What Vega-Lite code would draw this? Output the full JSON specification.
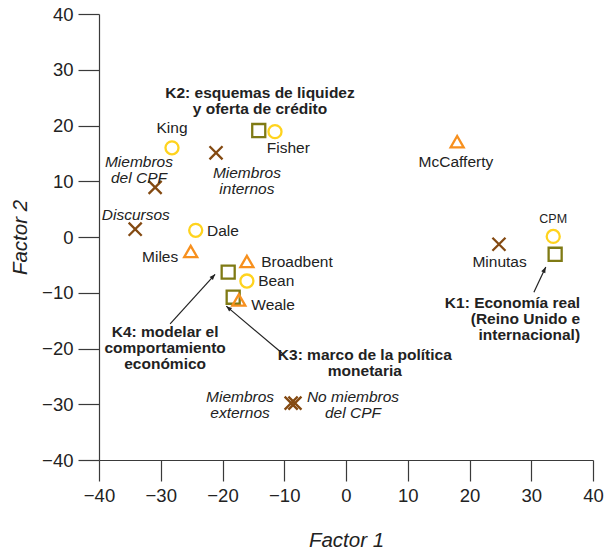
{
  "$schema": "https://vega.github.io/schema/vega-lite/v6.json",
  "width": 494,
  "height": 446,
  "autosize": {"type": "none"},
  "padding": {"left": 99, "top": 14, "right": 11, "bottom": 90},
  "background": "white",
  "config": {
    "view": {"stroke": null},
    "font": "Liberation Sans",
    "axis": {
      "grid": false,
      "domainColor": "#3a3a3a",
      "tickColor": "#3a3a3a",
      "domainWidth": 1.2,
      "tickWidth": 1.2,
      "tickSize": 21,
      "labelFont": "Liberation Sans",
      "labelFontSize": 18.5,
      "labelColor": "#222",
      "labelPadding": 5,
      "titleFont": "Liberation Sans",
      "titleFontSize": 20.5,
      "titleFontStyle": "italic",
      "titleFontWeight": "normal",
      "titleColor": "#222"
    }
  },
  "datasets": {
    "puntos": [
      {"f1": -14.13, "f2": 19.1, "tipo": "cuadrado"},
      {"f1": -19.08, "f2": -6.3, "tipo": "cuadrado"},
      {"f1": -18.27, "f2": -10.8, "tipo": "cuadrado"},
      {"f1": 33.87, "f2": -3.1, "tipo": "cuadrado"},
      {"f1": -28.18, "f2": 16.0, "tipo": "circulo"},
      {"f1": -11.5, "f2": 18.9, "tipo": "circulo"},
      {"f1": -24.34, "f2": 1.2, "tipo": "circulo"},
      {"f1": -16.05, "f2": -7.9, "tipo": "circulo"},
      {"f1": 33.56, "f2": 0.1, "tipo": "circulo"},
      {"f1": -25.15, "f2": -2.6, "tipo": "triangulo"},
      {"f1": -16.05, "f2": -4.4, "tipo": "triangulo"},
      {"f1": -17.36, "f2": -11.3, "tipo": "triangulo"},
      {"f1": 18.0, "f2": 17.1, "tipo": "triangulo"},
      {"f1": -21.05, "f2": 15.1, "tipo": "cruz"},
      {"f1": -30.91, "f2": 8.9, "tipo": "cruz"},
      {"f1": -34.14, "f2": 1.4, "tipo": "cruz"},
      {"f1": 24.77, "f2": -1.3, "tipo": "cruz"},
      {"f1": -8.88, "f2": -29.8, "tipo": "cruz"},
      {"f1": -8.27, "f2": -29.8, "tipo": "cruz"}
    ],
    "flechas": [
      {"id": "K4", "f1": -28.48, "f2": -15.6, "f1b": -21.2, "f2b": -6.7},
      {"id": "K3", "f1": -10.19, "f2": -21.0, "f1b": -19.39, "f2b": -12.4},
      {"id": "K1", "f1": 30.43, "f2": -9.9, "f1b": 32.35, "f2b": -5.4}
    ],
    "etiquetas": [
      {"f1": -28.18, "f2": 19.6, "texto": "King", "clase": "nombre", "lado": "centro"},
      {"f1": 17.8, "f2": 13.5, "texto": "McCafferty", "clase": "nombre", "lado": "centro"},
      {"f1": 24.87, "f2": -4.4, "texto": "Minutas", "clase": "nombre", "lado": "centro"},
      {"f1": -12.82, "f2": 16.0, "texto": "Fisher", "clase": "nombre", "lado": "izquierda"},
      {"f1": -22.52, "f2": 1.0, "texto": "Dale", "clase": "nombre", "lado": "izquierda"},
      {"f1": -13.73, "f2": -4.4, "texto": "Broadbent", "clase": "nombre", "lado": "izquierda"},
      {"f1": -14.23, "f2": -7.9, "texto": "Bean", "clase": "nombre", "lado": "izquierda"},
      {"f1": -15.34, "f2": -12.2, "texto": "Weale", "clase": "nombre", "lado": "izquierda"},
      {"f1": -27.17, "f2": -3.65, "texto": "Miles", "clase": "nombre", "lado": "derecha"},
      {"f1": 33.56, "f2": 3.3, "texto": "CPM", "clase": "sigla", "lado": "centro"},
      {"f1": -34.04, "f2": 3.9, "texto": "Discursos", "clase": "fuente", "lado": "centro"},
      {"f1": -33.53, "f2": 13.45, "texto": "Miembros\ndel CPF", "clase": "fuente", "lado": "centro"},
      {"f1": -16.05, "f2": 11.48, "texto": "Miembros\ninternos", "clase": "fuente", "lado": "centro"},
      {"f1": -17.16, "f2": -28.7, "texto": "Miembros\nexternos", "clase": "fuente", "lado": "centro"},
      {"f1": 1.13, "f2": -28.7, "texto": "No miembros\ndel CPF", "clase": "fuente", "lado": "centro"},
      {"f1": -13.93, "f2": 25.83, "texto": "K2: esquemas de liquidez\ny oferta de crédito", "clase": "grupo", "lado": "centro"},
      {"f1": -29.29, "f2": -17.04, "texto": "K4: modelar el\ncomportamiento\neconómico", "clase": "grupo", "lado": "centro"},
      {"f1": 3.05, "f2": -21.17, "texto": "K3: marco de la política\nmonetaria", "clase": "grupo", "lado": "centro"},
      {"f1": 37.91, "f2": -11.84, "texto": "K1: Economía real\n(Reino Unido e\ninternacional)", "clase": "grupo", "lado": "derecha"}
    ]
  },
  "encoding": {
    "x": {"field": "f1", "type": "quantitative", "scale": {"domain": [-40, 40], "nice": false}, "axis": {"title": "Factor 1", "values": [-40, -30, -20, -10, 0, 10, 20, 30, 40], "titlePadding": 26, "labelFlush": false, "labelOverlap": false}},
    "y": {"field": "f2", "type": "quantitative", "scale": {"domain": [-40, 40], "nice": false}, "axis": {"title": "Factor 2", "values": [-40, -30, -20, -10, 0, 10, 20, 30, 40], "titlePadding": 11, "labelFlush": false, "labelOverlap": false}}
  },
  "layer": [
    {
      "data": {"name": "flechas"},
      "mark": {"type": "rule", "color": "#222", "strokeWidth": 1.2},
      "encoding": {
        "x2": {"field": "f1b"},
        "y2": {"field": "f2b"}
      }
    },
    {
      "data": {"name": "flechas"},
      "transform": [{"filter": "datum.id === 'K4'"}],
      "mark": {"type": "point", "shape": "M0,0L-0.75,1.9L0.75,1.9Z", "filled": true, "color": "#222", "opacity": 1, "size": 36, "angle": 42},
      "encoding": {"x": {"field": "f1b", "type": "quantitative"}, "y": {"field": "f2b", "type": "quantitative"}}
    },
    {
      "data": {"name": "flechas"},
      "transform": [{"filter": "datum.id === 'K3'"}],
      "mark": {"type": "point", "shape": "M0,0L-0.75,1.9L0.75,1.9Z", "filled": true, "color": "#222", "opacity": 1, "size": 36, "angle": -50},
      "encoding": {"x": {"field": "f1b", "type": "quantitative"}, "y": {"field": "f2b", "type": "quantitative"}}
    },
    {
      "data": {"name": "flechas"},
      "transform": [{"filter": "datum.id === 'K1'"}],
      "mark": {"type": "point", "shape": "M0,0L-0.75,1.9L0.75,1.9Z", "filled": true, "color": "#222", "opacity": 1, "size": 36, "angle": 26},
      "encoding": {"x": {"field": "f1b", "type": "quantitative"}, "y": {"field": "f2b", "type": "quantitative"}}
    },
    {
      "data": {"name": "puntos"},
      "mark": {"type": "point", "filled": false, "strokeWidth": 2.3, "opacity": 1},
      "encoding": {
        "shape": {"field": "tipo", "type": "nominal", "legend": null, "scale": {"domain": ["cuadrado", "circulo", "triangulo", "cruz"], "range": ["square", "circle", "triangle-up", "M-1,-1L1,1M-1,1L1,-1"]}},
        "color": {"field": "tipo", "type": "nominal", "legend": null, "scale": {"domain": ["cuadrado", "circulo", "triangulo", "cruz"], "range": ["#7f7a14", "#ffd31e", "#f7901e", "#844a12"]}},
        "size": {"field": "tipo", "type": "nominal", "legend": null, "scale": {"domain": ["cuadrado", "circulo", "triangulo", "cruz"], "range": [170, 170, 250, 90]}}
      }
    },
    {
      "data": {"name": "etiquetas"},
      "transform": [{"filter": "datum.clase === 'nombre' && datum.lado === 'centro'"}],
      "mark": {"type": "text", "fontSize": 15.5, "color": "#222", "align": "center", "baseline": "middle"},
      "encoding": {"text": {"field": "texto"}}
    },
    {
      "data": {"name": "etiquetas"},
      "transform": [{"filter": "datum.clase === 'nombre' && datum.lado === 'izquierda'"}],
      "mark": {"type": "text", "fontSize": 15.5, "color": "#222", "align": "left", "baseline": "middle"},
      "encoding": {"text": {"field": "texto"}}
    },
    {
      "data": {"name": "etiquetas"},
      "transform": [{"filter": "datum.clase === 'nombre' && datum.lado === 'derecha'"}],
      "mark": {"type": "text", "fontSize": 15.5, "color": "#222", "align": "right", "baseline": "middle"},
      "encoding": {"text": {"field": "texto"}}
    },
    {
      "data": {"name": "etiquetas"},
      "transform": [{"filter": "datum.clase === 'sigla'"}],
      "mark": {"type": "text", "fontSize": 12.5, "color": "#222", "align": "center", "baseline": "middle"},
      "encoding": {"text": {"field": "texto"}}
    },
    {
      "data": {"name": "etiquetas"},
      "transform": [{"filter": "datum.clase === 'fuente'"}],
      "mark": {"type": "text", "fontSize": 15.5, "fontStyle": "italic", "color": "#222", "align": "center", "baseline": "middle", "lineBreak": "\n", "lineHeight": 16},
      "encoding": {"text": {"field": "texto"}}
    },
    {
      "data": {"name": "etiquetas"},
      "transform": [{"filter": "datum.clase === 'grupo' && datum.lado === 'centro'"}],
      "mark": {"type": "text", "fontSize": 15.5, "fontWeight": "bold", "color": "#222", "align": "center", "baseline": "middle", "lineBreak": "\n", "lineHeight": 16},
      "encoding": {"text": {"field": "texto"}}
    },
    {
      "data": {"name": "etiquetas"},
      "transform": [{"filter": "datum.clase === 'grupo' && datum.lado === 'derecha'"}],
      "mark": {"type": "text", "fontSize": 15.5, "fontWeight": "bold", "color": "#222", "align": "right", "baseline": "middle", "lineBreak": "\n", "lineHeight": 16},
      "encoding": {"text": {"field": "texto"}}
    }
  ]
}
